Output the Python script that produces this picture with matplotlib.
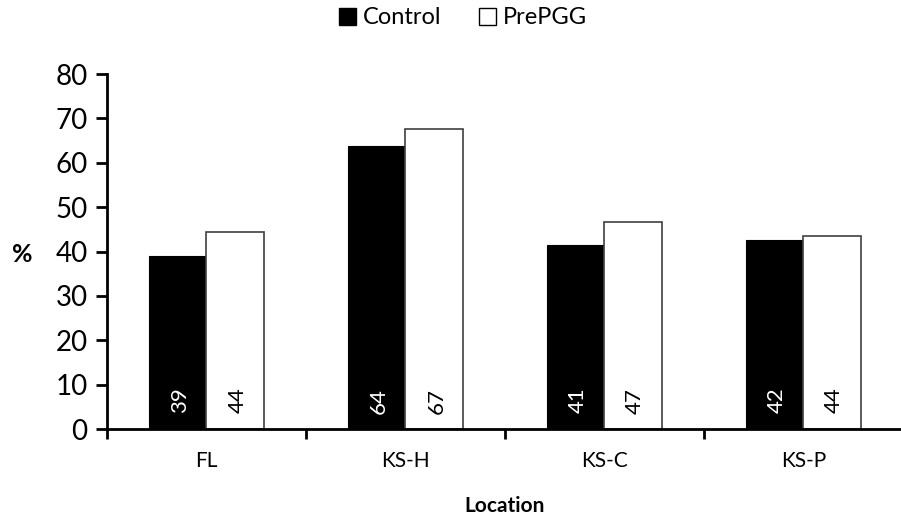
import matplotlib
matplotlib.use("Agg")
import matplotlib.pyplot as plt
import numpy as np
from matplotlib.patches import Patch

plt.rcParams['font.family'] = ['Lato', 'DejaVu Sans']

categories = ["FL", "KS-H", "KS-C", "KS-P"]
control = [39.0, 63.8, 41.4, 42.5]
prepgg = [44.4, 67.5, 46.6, 43.6]
control_labels = ["39", "64", "41", "42"]
prepgg_labels = ["44", "67", "47", "44"]
yticks = [0, 10, 20, 30, 40, 50, 60, 70, 80]

fig = plt.figure(figsize=(9.01, 5.22), dpi=100)
ax = fig.add_axes([107/901, 93/522, 1 - 107/901 + 0.002, (429-74)/522])

x = np.arange(len(categories))
w = 0.29
ax.bar(x - w/2, control, width=w, color='black', edgecolor='black', linewidth=0.8, zorder=2)
ax.bar(x + w/2, prepgg, width=w, color='white', edgecolor='#404040', linewidth=1.2, zorder=2)

for i in range(len(categories)):
    ax.text(x[i] - w/2 + 0.01, 6.4, control_labels[i], rotation=90, ha='center', va='center',
            color='white', fontsize=16)
    ax.text(x[i] + w/2 + 0.01, 6.4, prepgg_labels[i], rotation=90, ha='center', va='center',
            color='black', fontsize=16)

ax.set_xlim(-0.5, len(categories) - 0.5)
ax.set_ylim(0, 80)
ax.set_yticks(yticks)
ax.set_yticklabels([str(v) for v in yticks], fontsize=20)
ax.set_xticks(x)
ax.set_xticklabels(categories, fontsize=15)
ax.set_xticks(np.arange(-0.5, len(categories) + 0.5, 1), minor=True)
ax.tick_params(axis='x', which='major', length=0, pad=16)
ax.tick_params(axis='x', which='minor', length=7, width=2, direction='out')
ax.tick_params(axis='y', which='major', length=8, width=2, direction='out', pad=6)

for s in ['top', 'right']:
    ax.spines[s].set_visible(False)
for s in ['left', 'bottom']:
    ax.spines[s].set_linewidth(2)
    ax.spines[s].set_color('black')

fig.text(22/901, 1 - 254/522, "%", fontsize=18, fontweight='bold', ha='center', va='center')
fig.text(505/901, 1 - 506/522, "Location", fontsize=15, fontweight='bold', ha='center', va='center')

handles = [Patch(facecolor='black', edgecolor='black', label='Control'),
           Patch(facecolor='white', edgecolor='black', label='PrePGG')]
fig.legend(handles=handles, loc='center', bbox_to_anchor=(463/901, 1 - 18/522), ncol=2,
           frameon=False, fontsize=17, handlelength=0.7, handleheight=0.7,
           handletextpad=0.3, columnspacing=1.6)

fig.savefig("out.png", dpi=100)
